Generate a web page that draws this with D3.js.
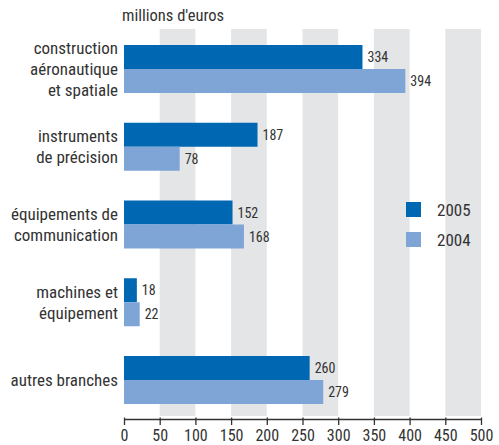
<!DOCTYPE html>
<html><head><meta charset="utf-8">
<script src="https://cdn.jsdelivr.net/npm/d3@7"></script>
<style>
body{margin:0;background:#fff;}
text{font-family:"Roboto Condensed","DejaVu Sans Condensed",sans-serif;fill:#333;}
</style></head><body>
<svg id="c" width="499" height="445"></svg>
<script>
const categories = [
  ["construction","aéronautique","et spatiale"],
  ["instruments","de précision"],
  ["équipements de","communication"],
  ["machines et","équipement"],
  ["autres branches"]
];
const catKeys = categories.map(c => c.join(" "));
const series = ["2005","2004"];
const values2005 = [334, 187, 152, 18, 260];
const values2004 = [394, 78, 168, 22, 279];
const xTicks = [0,50,100,150,200,250,300,350,400,450,500];
const colors = ["#0068b3","#7fa5d6"];
const unitLabel = "millions d'euros";

const svg = d3.select("#c");
const x = d3.scaleLinear().domain([0,500]).range([124,481]);
const y = d3.scaleBand().domain(catKeys).range([45,404]).paddingInner(0.3826).paddingOuter(0);
const ySub = d3.scaleBand().domain(series).range([0,y.bandwidth()]);
const plotTop = 29, plotBottom = 416, axisY = 419;

// stripes
const stripeStarts = xTicks.filter((t,i)=> i%2===1 && t<500);
svg.append("g").selectAll("rect").data(stripeStarts).join("rect")
  .attr("x", d=>x(d)).attr("width", d=>x(d+50)-x(d))
  .attr("y", plotTop).attr("height", plotBottom-plotTop).attr("fill","#e4e5e7");

// title
svg.append("text").attr("x",122).attr("y",21).attr("font-size",16.5).text(unitLabel);

// bars
const data = catKeys.map((k,i)=>({k, vals:[values2005[i], values2004[i]]}));
const g = svg.append("g");
data.forEach(d=>{
  series.forEach((s,j)=>{
    const v = d.vals[j];
    g.append("rect").attr("x", x(0)).attr("y", y(d.k)+ySub(s))
      .attr("width", x(v)-x(0)).attr("height", ySub.bandwidth()).attr("fill", colors[j]);
    g.append("text").attr("x", x(v)+5).attr("y", y(d.k)+ySub(s)+ySub.bandwidth()/2)
      .attr("dy","0.36em").attr("font-size",14).text(v);
  });
});

// category labels
categories.forEach((lines,i)=>{
  const cy = y(catKeys[i]) + y.bandwidth()/2;
  const lh = 21;
  const t = svg.append("text").attr("text-anchor","end").attr("font-size",17);
  lines.forEach((ln,j)=>{
    t.append("tspan").attr("x",118).attr("y", cy + (j-(lines.length-1)/2)*lh).attr("dy","0.36em").text(ln);
  });
});

// axis
const axis = d3.axisBottom(x).tickValues(xTicks).tickSize(0).tickPadding(11);
const ag = svg.append("g").attr("transform",`translate(0,${axisY})`).call(axis);
ag.attr("font-family",null).attr("font-size",null);
ag.select(".domain").attr("stroke","#333").attr("stroke-width",1.3);
ag.selectAll(".tick text").attr("font-size",16).attr("fill","#333");
ag.selectAll(".tick").append("line").attr("y1",-1.5).attr("y2",6).attr("stroke","#333").attr("stroke-width",1.3);

// legend
const lg = svg.append("g");
series.forEach((s,j)=>{
  const ly = 202 + j*30;
  lg.append("rect").attr("x",406).attr("y",ly).attr("width",15).attr("height",15).attr("fill",colors[j]);
  lg.append("text").attr("x",437).attr("y",ly+7.5).attr("dy","0.36em").attr("font-size",17).text(s);
});
</script></body></html>
